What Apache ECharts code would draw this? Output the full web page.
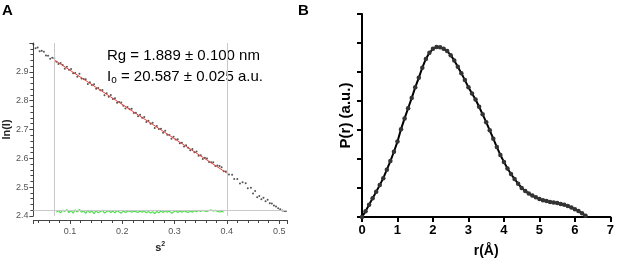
<!DOCTYPE html>
<html>
<head>
<meta charset="utf-8">
<script src="https://cdn.jsdelivr.net/npm/echarts@6/dist/echarts.min.js"></script>
<style>html,body{margin:0;padding:0;background:#fff}#c{width:617px;height:266px}</style>
</head>
<body>
<div id="c"></div>
<script>
// Panel A: Guinier plot
var dotsX = [0.030,0.034,0.038,0.042,0.046,0.050,0.054,0.058,0.062,0.066,0.070,0.074,0.078,0.082,0.086,0.090,0.094,0.098,0.102,0.106,0.110,0.114,0.118,0.122,0.126,0.130,0.134,0.138,0.142,0.146,0.150,0.154,0.158,0.162,0.166,0.170,0.174,0.178,0.182,0.186,0.190,0.194,0.198,0.202,0.206,0.210,0.214,0.218,0.222,0.226,0.230,0.234,0.238,0.242,0.246,0.250,0.254,0.258,0.262,0.266,0.270,0.274,0.278,0.282,0.286,0.290,0.294,0.298,0.302,0.306,0.310,0.314,0.318,0.322,0.326,0.330,0.334,0.338,0.342,0.346,0.350,0.354,0.358,0.362,0.366,0.370,0.374,0.378,0.382,0.386,0.390,0.394,0.398,
  0.404,0.410,0.414,0.420,0.425,0.430,0.436,0.440,0.446,0.450,0.454,0.458,0.462,0.466,0.470,0.474,0.478,0.482,0.486,0.490,0.494,0.498,0.502,0.506,0.510,0.513];
var dotsY = [2.995,2.982,2.984,2.971,2.973,2.970,2.957,2.956,2.945,2.949,2.947,2.935,2.927,2.931,2.924,2.911,2.918,2.907,2.910,2.895,2.896,2.883,2.893,2.877,2.875,2.874,2.858,2.864,2.854,2.857,2.841,2.844,2.836,2.837,2.819,2.826,2.814,2.820,2.806,2.808,2.793,2.795,2.794,2.782,2.773,2.778,2.770,2.772,2.757,2.758,2.746,2.751,2.741,2.743,2.726,2.730,2.720,2.723,2.705,2.712,2.702,2.703,2.689,2.696,2.682,2.681,2.668,2.675,2.665,2.666,2.652,2.654,2.641,2.645,2.637,2.628,2.632,2.621,2.624,2.609,2.611,2.598,2.602,2.599,2.587,2.586,2.586,2.573,2.575,2.573,2.569,2.555,2.554,
  2.544,2.543,2.528,2.528,2.513,2.517,2.514,2.496,2.498,2.478,2.487,2.465,2.469,2.458,2.463,2.451,2.456,2.444,2.443,2.436,2.433,2.427,2.423,2.419,2.417,2.417];
var fitX = [0.071, 0.400];
var fitY = [2.940, 2.549];
var residX = dotsX.slice(11, 92);
var residY = [2.414,2.419,2.411,2.420,2.416,2.422,2.412,2.419,2.410,2.421,
  2.414,2.423,2.413,2.418,2.409,2.420,2.412,2.417,2.408,2.419,
  2.411,2.416,2.420,2.410,2.415,2.418,2.412,2.417,2.411,2.419,
  2.414,2.410,2.417,2.412,2.416,2.418,2.413,2.417,2.415,2.412,
  2.417,2.413,2.418,2.411,2.416,2.410,2.415,2.408,2.416,2.411,
  2.417,2.412,2.419,2.413,2.417,2.410,2.414,2.418,2.412,2.417,
  2.413,2.418,2.415,2.412,2.417,2.413,2.418,2.415,2.419,2.416,
  2.420,2.417,2.416,2.419,2.421,2.417,2.420,2.416,2.414,2.416,
  2.414];
var fitRangeX = [0.071, 0.400];
var baselineY = 2.415;

// Panel B: P(r)
var prR = [0.0,0.1,0.2,0.3,0.4,0.5,0.6,0.7,0.8,0.9,1.0,1.1,1.2,1.3,1.4,1.5,1.6,1.7,1.8,1.9,2.0,2.1,2.2,2.3,2.4,2.5,2.6,2.7,2.8,2.9,3.0,3.1,3.2,3.3,3.4,3.5,3.6,3.7,3.8,3.9,4.0,4.1,4.2,4.3,4.4,4.5,4.6,4.7,4.8,4.9,5.0,5.1,5.2,5.3,5.4,5.5,5.6,5.7,5.8,5.9,6.0,6.1,6.2,6.3];
var prP = [0.00,0.20,0.42,0.65,0.87,1.10,1.34,1.63,1.93,2.25,2.60,3.03,3.40,3.75,4.10,4.47,4.80,5.15,5.45,5.66,5.80,5.86,5.85,5.80,5.72,5.58,5.40,5.18,4.96,4.72,4.47,4.26,4.05,3.80,3.54,3.27,2.99,2.70,2.41,2.14,1.90,1.67,1.48,1.31,1.15,1.00,0.90,0.81,0.74,0.68,0.62,0.58,0.55,0.52,0.50,0.48,0.45,0.42,0.38,0.33,0.27,0.21,0.13,0.04];
var prTicks = [0,1,2,3,4,5,6,7];

function zip(a, b) { return a.map(function (v, i) { return [v, b[i]]; }); }

var chart = echarts.init(document.getElementById('c'), null, {renderer: 'canvas'});
var FONT = 'Liberation Sans';
chart.setOption({
  animation: false,
  backgroundColor: '#fff',
  textStyle: {fontFamily: FONT},
  grid: [
    {left: 32, top: 43, width: 255, height: 173},
    {left: 362, top: 14, width: 251, height: 203}
  ],
  xAxis: [
    {
      gridIndex: 0, type: 'value', min: 0.03, max: 0.515, splitNumber: 5, offset: 4,
      axisLine: {lineStyle: {color: '#444', width: 1}},
      axisTick: {length: 4, lineStyle: {color: '#444'}},
      minorTick: {show: true, splitNumber: 5, length: 3, lineStyle: {color: '#444'}},
      splitLine: {show: false}, minorSplitLine: {show: false},
      axisLabel: {fontSize: 9, color: '#555', margin: 7, showMinLabel: false, showMaxLabel: false,
        formatter: function (v) { return v.toFixed(1); }},
      name: 's{sup|2}', nameLocation: 'middle', nameGap: 20,
      nameTextStyle: {fontSize: 11, fontWeight: 'bold', color: '#222',
        rich: {sup: {fontSize: 7, fontWeight: 'bold', verticalAlign: 'top', padding: [0, 0, 8, 0], color: '#222'}}}
    },
    {
      gridIndex: 1, type: 'value', min: 0, max: 7, interval: 1,
      axisLine: {lineStyle: {color: '#000', width: 2}},
      axisTick: {length: 5, lineStyle: {color: '#000', width: 2}},
      splitLine: {show: false},
      axisLabel: {fontSize: 13, fontWeight: 'bold', color: '#000', margin: 7,
        formatter: function (v) { return prTicks.indexOf(v) >= 0 ? String(v) : ''; }},
      name: 'r(Å)', nameLocation: 'middle', nameGap: 27,
      nameTextStyle: {fontSize: 14, fontWeight: 'bold', color: '#000'}
    }
  ],
  yAxis: [
    {
      gridIndex: 0, type: 'value', min: 2.4, max: 3.0, interval: 0.1,
      axisLine: {show: true, lineStyle: {color: '#444', width: 1}},
      axisTick: {show: true, length: 4, lineStyle: {color: '#444'}},
      minorTick: {show: true, splitNumber: 5, length: 3, lineStyle: {color: '#444'}},
      splitLine: {show: false}, minorSplitLine: {show: false},
      axisLabel: {fontSize: 9, color: '#555', margin: 5, showMaxLabel: false,
        formatter: function (v) { return v.toFixed(1); }},
      name: 'ln(I)', nameLocation: 'middle', nameGap: 21,
      nameTextStyle: {fontSize: 11, fontWeight: 'bold', color: '#222'}
    },
    {
      gridIndex: 1, type: 'value', min: 0, max: 7, interval: 1,
      axisLine: {show: true, lineStyle: {color: '#000', width: 2}},
      axisTick: {show: true, length: 5, lineStyle: {color: '#000', width: 2}},
      splitLine: {show: false},
      axisLabel: {show: false},
      name: 'P(r) (a.u.)', nameLocation: 'middle', nameGap: 9,
      nameTextStyle: {fontSize: 15, fontWeight: 'bold', color: '#000'}
    }
  ],
  graphic: [
    {type: 'text', left: 2, top: 3, style: {text: 'A', font: 'bold 15px "Liberation Sans"', fill: '#000'}},
    {type: 'text', left: 298, top: 3, style: {text: 'B', font: 'bold 15px "Liberation Sans"', fill: '#000'}},
    {type: 'text', left: 107, top: 48, style: {text: 'Rg = 1.889 ± 0.100 nm', font: '15px "Liberation Sans"', fill: '#000'}},
    {type: 'text', left: 107, top: 69, style: {
      text: '{a|I}{s|o}{a| = 20.587 ± 0.025 a.u.}',
      rich: {
        a: {fontSize: 15, fontFamily: FONT, fill: '#000', color: '#000'},
        s: {fontSize: 10, fontFamily: FONT, fill: '#000', color: '#000', padding: [8, 0, 0, 0]}
      }
    }}
  ],
  series: [
    {
      type: 'line', xAxisIndex: 0, yAxisIndex: 0, data: zip(residX, residY),
      symbol: 'none', lineStyle: {color: '#4fdf4f', width: 1.2}, z: 3,
      markLine: {
        silent: true, symbol: 'none', label: {show: false},
        lineStyle: {color: '#c9c9c9', width: 1, type: 'solid'},
        data: [{xAxis: fitRangeX[0]}, {xAxis: fitRangeX[1]}, {yAxis: baselineY}]
      }
    },
    {
      type: 'scatter', xAxisIndex: 0, yAxisIndex: 0, data: zip(dotsX, dotsY),
      symbol: 'circle', symbolSize: 2, itemStyle: {color: '#2a2a2a'}, z: 4
    },
    {
      type: 'line', xAxisIndex: 0, yAxisIndex: 0, data: zip(fitX, fitY),
      symbol: 'none', lineStyle: {color: '#e8433a', width: 1}, z: 5
    },
    {
      type: 'line', xAxisIndex: 1, yAxisIndex: 1, data: zip(prR, prP),
      symbol: 'circle', symbolSize: 4.5, showAllSymbol: true,
      itemStyle: {color: '#333'}, lineStyle: {color: '#000', width: 2}, z: 3
    }
  ]
});
</script>
</body>
</html>
